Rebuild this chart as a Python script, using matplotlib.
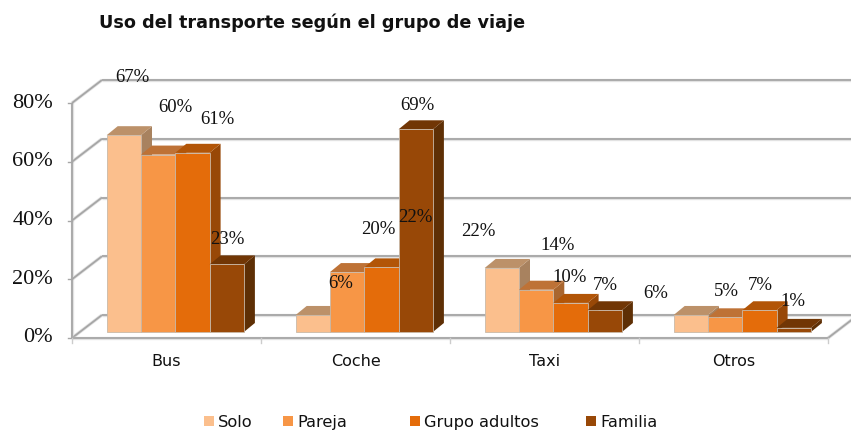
import matplotlib
matplotlib.use("Agg")
from matplotlib import pyplot as plt
from matplotlib.patches import Polygon, Rectangle
from matplotlib.transforms import Affine2D

categorias = ["Bus", "Coche", "Taxi", "Otros"]
grupos = ["Solo", "Pareja", "Grupo adultos", "Familia"]
solo = [67, 5.8, 21.8, 5.8]
pareja = [60.4, 20.4, 14.4, 5.0]
grupo_adultos = [61, 22, 9.9, 7.4]
familia = [23, 69, 7.4, 1.4]
series = [solo, pareja, grupo_adultos, familia]
y_ticks = [0, 20, 40, 60, 80]

# front / top / side colour of each series
colores = ["#FBBF8D", "#F79646", "#E46C0A", "#984807"]
colores_top = ["#BC9169", "#BE7236", "#B25507", "#713605"]
colores_lado = ["#A8825F", "#A9662F", "#984807", "#5E2F05"]

# label centres in pixels, they sit off the bars in the original
pos_etiquetas = [
    [(132, 77), (341, 283), (478, 232), (656, 293)],
    [(175, 107), (378, 229), (558, 245), (726, 292)],
    [(217, 120), (415, 218), (570, 278), (760, 285)],
    [(227, 240), (417, 105), (605, 285), (793, 302)],
]

W, H = 851, 432
fig = plt.figure(figsize=(W / 100, H / 100), dpi=100)
X0, X1, Y0, Y80 = 72, 828, 338, 103
ax = fig.add_axes([X0 / W, 1 - Y0 / H, (X1 - X0) / W, (Y0 - Y80) / H])
ax.set_xlim(0, len(categorias))
ax.set_ylim(0, 80)
ax.axis("off")

px_x = len(categorias) / (X1 - X0)
px_y = 80 / (Y0 - Y80)
pared_dx, pared_dy = 30 * px_x, 23 * px_y   # depth of the walls
bar_dx, bar_dy = 11 * px_x, 9 * px_y        # depth of the bars
base_dx, base_dy = 34.7 * px_x, 6 * px_y    # bars stand inside the floor
ancho = 34.3 * px_x
x_max = W * px_x

px = Affine2D().scale(1, -1).translate(0, H)  # pixel coords, y down
gris = "#A6A6A6"

def linea(xs, ys, z=1):
    ax.plot(xs, ys, color="#E2E2E2", lw=2.4, clip_on=False, zorder=z, solid_capstyle="butt")
    ax.plot(xs, ys, color=gris, lw=1.3, clip_on=False, zorder=z + 0.1, solid_capstyle="butt")

# walls and grid
for t in y_ticks:
    linea([pared_dx, x_max], [t + pared_dy, t + pared_dy])
    linea([0, pared_dx], [t, t + pared_dy])
    ax.plot([-4 * px_x, 0], [t, t], color=gris, lw=1.0, clip_on=False)
    ax.text(-19 * px_x, t, f"{t}%", ha="right", va="center", fontsize=16,
            family="Liberation Serif", color="#111111", clip_on=False)
linea([0, 0], [0, 80])
linea([0, len(categorias)], [0, 0], z=1.5)
linea([len(categorias), len(categorias) + pared_dx], [0, pared_dy], z=1.5)
for i in range(len(categorias) + 1):
    ax.plot([i, i], [0, -5 * px_y], color="#CCCCCC", lw=1.0, clip_on=False)

# bars, painted left to right so later fronts cover earlier sides
for i, cat in enumerate(categorias):
    x_ini = i + base_dx
    for s, valores in enumerate(series):
        v = valores[i]
        x = x_ini + s * ancho
        b = base_dy
        top = b + v
        z = 3 + i + s * 0.1
        ax.add_patch(Polygon([(x + ancho, b), (x + ancho + bar_dx, b + bar_dy),
                              (x + ancho + bar_dx, top + bar_dy), (x + ancho, top)],
                             fc=colores_lado[s], ec="none", zorder=z, clip_on=False))
        ax.add_patch(Polygon([(x, top), (x + bar_dx, top + bar_dy),
                              (x + ancho + bar_dx, top + bar_dy), (x + ancho, top)],
                             fc=colores_top[s], ec="none", zorder=z, clip_on=False))
        ax.add_patch(Rectangle((x, b), ancho, v, fc=colores[s], ec="#C9B9A8", lw=0.6,
                               zorder=z + 0.01, clip_on=False))
    ax.text(i + 0.5, -23 * px_y, cat, ha="center", va="center", fontsize=11.5,
            color="#111111", clip_on=False)

# data labels
for s, valores in enumerate(series):
    for i, v in enumerate(valores):
        lx, ly = pos_etiquetas[s][i]
        fig.text(lx, ly, f"{round(v)}%", transform=px, ha="center", va="center",
                 fontsize=13.5, family="Liberation Serif", color="#111111", zorder=20)

fig.text(99, 23, "Uso del transporte según el grupo de viaje", transform=px,
         ha="left", va="center", fontsize=12.7, fontweight="bold", color="#111111")

# legend
pos_cuadro = [204, 283, 410, 586]
for nombre, color, lx in zip(grupos, colores, pos_cuadro):
    fig.patches.append(Rectangle((lx, 416), 10, 10, transform=px, fc=color, ec="none", figure=fig))
    fig.text(lx + 14, 427, nombre, transform=px, ha="left", va="baseline", fontsize=11.7, color="#111111")

fig.savefig("out.png", dpi=100)
